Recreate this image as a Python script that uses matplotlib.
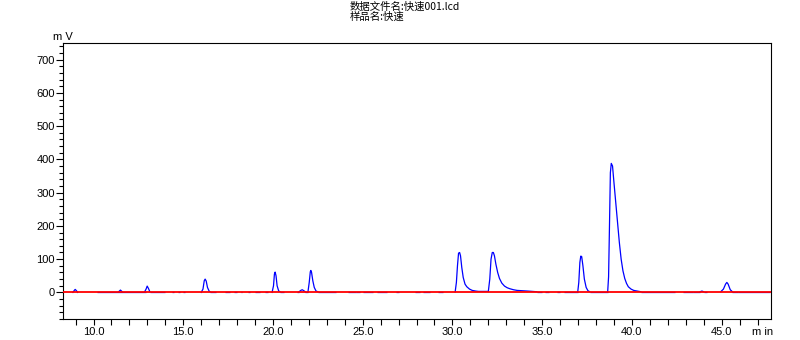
import matplotlib.pyplot as plt
from matplotlib.ticker import MultipleLocator, FormatStrFormatter

plt.rcParams['font.family'] = ['Liberation Sans', 'Noto Sans CJK SC', 'DejaVu Sans']

# chromatogram peaks, (time [min], signal [mV])
peaks = [
    [(8.85, 0), (8.93, 6), (8.98, 9), (9.05, 5), (9.12, 0)],
    [(11.4, 2), (11.5, 7), (11.6, 2)],
    [(12.85, 2), (12.93, 10), (12.99, 19), (13.06, 12), (13.14, 2)],
    [(16.0, 0), (16.1, 10), (16.17, 35), (16.22, 40), (16.28, 34), (16.35, 15), (16.45, 3), (16.5, 2)],
    [(19.95, 0), (20.03, 20), (20.08, 55), (20.12, 61), (20.17, 50), (20.23, 20), (20.32, 4), (20.4, 2)],
    [(21.45, 2), (21.55, 6), (21.63, 8), (21.72, 5), (21.8, 2)],
    [(21.95, 2), (22.02, 30), (22.08, 62), (22.11, 66), (22.15, 60), (22.22, 35), (22.3, 15),
     (22.4, 4), (22.5, 2)],
    [(30.15, 1), (30.22, 30), (30.28, 80), (30.34, 118), (30.4, 120), (30.45, 110), (30.52, 75),
     (30.6, 45), (30.7, 25), (30.8, 17), (30.95, 10), (31.1, 6), (31.3, 4), (31.45, 3), (32.0, 3)],
    [(32.0, 3), (32.08, 40), (32.15, 100), (32.22, 120), (32.28, 120), (32.34, 110), (32.42, 85),
     (32.52, 60), (32.62, 42), (32.75, 28), (32.9, 19), (33.05, 14), (33.2, 11), (33.4, 8),
     (33.6, 6), (34.2, 4), (34.7, 2)],
    [(36.98, 1), (37.04, 30), (37.1, 90), (37.15, 109), (37.2, 108), (37.27, 80), (37.35, 40),
     (37.45, 15), (37.55, 5), (37.65, 2)],
    [(38.65, 2), (38.7, 47), (38.75, 200), (38.8, 360), (38.85, 388), (38.92, 380), (39.0, 330),
     (39.1, 270), (39.2, 210), (39.3, 150), (39.4, 100), (39.5, 65), (39.6, 42), (39.7, 27),
     (39.8, 17), (39.95, 10), (40.1, 6), (40.3, 4), (40.5, 2)],
    [(43.8, 2), (43.9, 4), (44.0, 2)],
    [(44.95, 2), (45.1, 10), (45.22, 25), (45.29, 30), (45.36, 25), (45.48, 8), (45.6, 2)],
]

# short stretches where the baseline sits just above zero (start, end, mV)
baseline_bits = [
    (10.2, 12.9, 2), (13.15, 14.0, 2), (14.4, 14.5, 2), (14.7, 14.8, 2), (15.0, 15.1, 2),
    (16.5, 16.8, 2), (17.3, 17.6, 2), (17.85, 18.0, 2), (18.2, 18.3, 2), (18.6, 18.7, 2),
    (19.0, 19.3, 2), (19.55, 19.7, 2), (20.4, 20.6, 2), (21.35, 21.45, 2), (21.8, 21.95, 2),
    (22.5, 23.5, 2), (24.2, 24.6, 2), (24.65, 24.86, 2), (25.0, 25.58, 2), (25.8, 26.35, 2),
    (26.85, 27.0, 2), (27.9, 28.2, 2), (28.36, 28.75, 2), (29.2, 29.5, 2), (34.7, 35.0, 2),
    (35.15, 35.4, 2), (35.8, 36.0, 2), (36.2, 36.98, 2), (37.65, 38.65, 2), (40.5, 42.4, 2),
    (42.85, 43.4, 2), (43.4, 43.8, 1), (44.0, 44.2, 2), (45.6, 45.9, 1), (45.9, 47.7, 2),
]

title_1 = "数据文件名:快速001.lcd"
title_2 = "样品名:快速"
y_unit = "m V"
x_unit = "m in"

fig = plt.figure(figsize=(8, 3.4), dpi=100)
ax = fig.add_axes([63 / 800, 21 / 340, 708 / 800, 276 / 340])

for a, b, lvl in baseline_bits:
    ax.plot([a, b], [lvl, lvl], color='#0000ff', lw=0.9, solid_capstyle='butt')
for pk in peaks:
    ts = [p[0] for p in pk]
    vs = [p[1] for p in pk]
    ax.plot(ts, vs, color='#0000ff', lw=0.9)

ax.axhline(0, color='#ff0000', lw=1.3, zorder=5)

ax.set_xlim(8.3, 47.75)
ax.set_ylim(-80, 750)
ax.xaxis.set_major_locator(MultipleLocator(5))
ax.xaxis.set_minor_locator(MultipleLocator(1))
ax.xaxis.set_major_formatter(FormatStrFormatter('%.1f'))
ax.yaxis.set_major_locator(MultipleLocator(100))
ax.yaxis.set_minor_locator(MultipleLocator(20))

ax.tick_params(axis='x', which='both', direction='out', length=4, width=0.8,
               labelsize=8, pad=2)
ax.tick_params(axis='y', which='major', direction='out', length=5, width=0.8,
               labelsize=8, pad=1)
ax.tick_params(axis='y', which='minor', direction='out', length=3, width=0.8)
ax.tick_params(top=False, right=False)
for s in ax.spines.values():
    s.set_linewidth(0.8)

fig.text(63 / 800, 1 - 37 / 340, y_unit, ha='center', va='center', fontsize=8)
fig.text(763 / 800, 1 - 332 / 340, x_unit, ha='center', va='center', fontsize=8)
fig.text(350 / 800, 1 - 6.5 / 340, title_1, ha='left', va='center', fontsize=7.5,
         family=['Noto Sans CJK SC', 'DejaVu Sans'])
fig.text(350 / 800, 1 - 16.5 / 340, title_2, ha='left', va='center', fontsize=7.5,
         family=['Noto Sans CJK SC', 'DejaVu Sans'])

fig.savefig('out.png', dpi=100)
